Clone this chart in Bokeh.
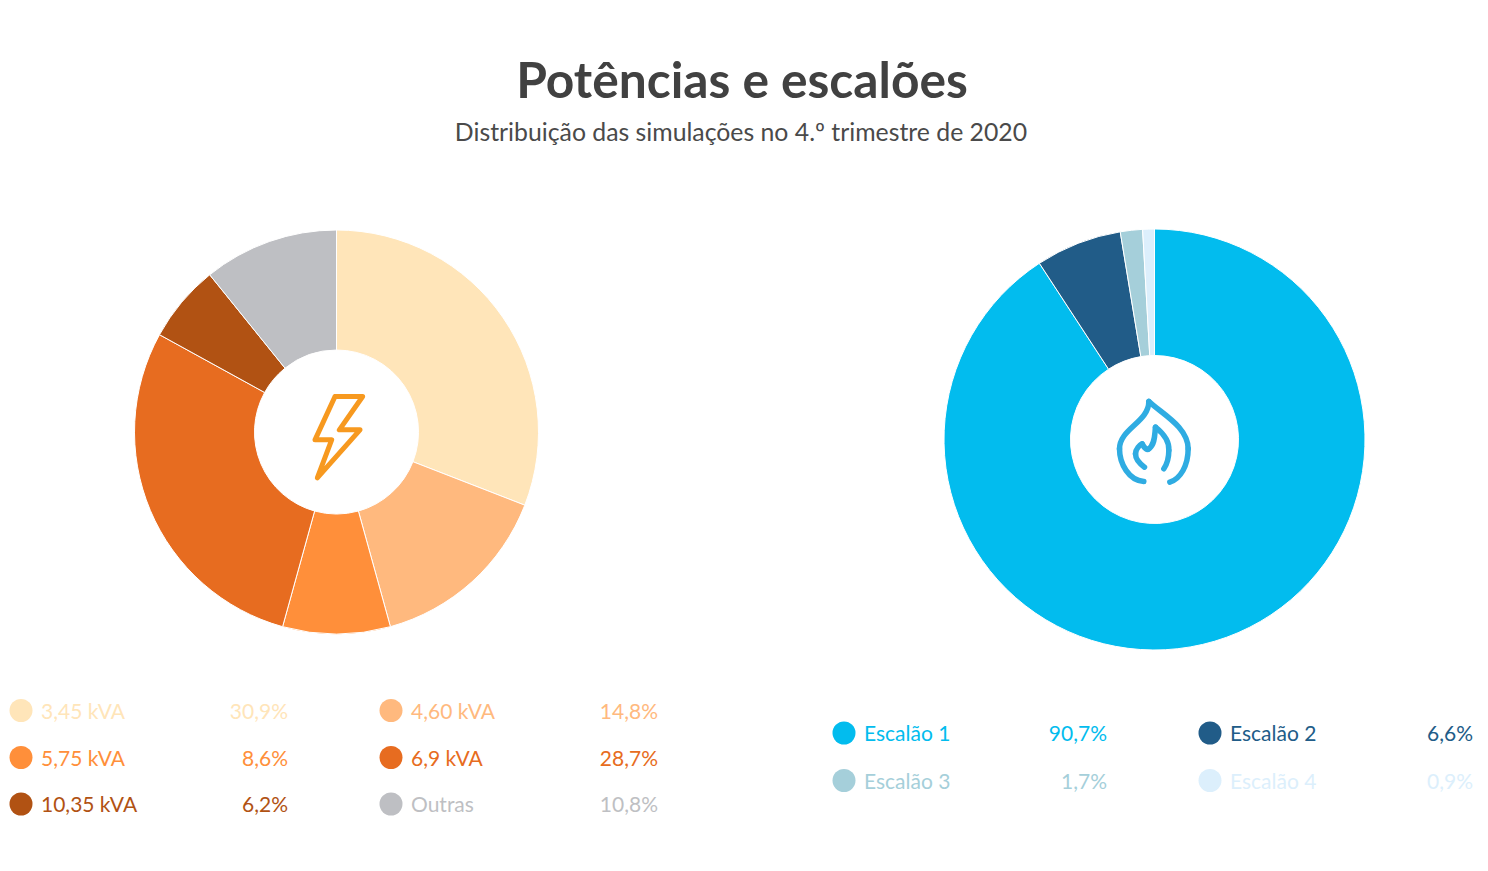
from math import pi
from bokeh.plotting import figure
from bokeh.models import Range1d, ColumnDataSource
from bokeh.core.properties import value
from bokeh.embed import file_html
from bokeh.resources import INLINE

TITLE = "Potências e escalões"
SUBTITLE = "Distribuição das simulações no 4.º trimestre de 2020"

power_labels = ["3,45 kVA", "4,60 kVA", "5,75 kVA", "6,9 kVA", "10,35 kVA", "Outras"]
power_values = [30.9, 14.8, 8.6, 28.7, 6.2, 10.8]
power_text = ["30,9%", "14,8%", "8,6%", "28,7%", "6,2%", "10,8%"]
power_colors = ["#FFE5B9", "#FFB97E", "#FF8F3A", "#E76C20", "#B15213", "#BEBFC3"]

tier_labels = ["Escalão 1", "Escalão 2", "Escalão 3", "Escalão 4"]
tier_values = [90.7, 6.6, 1.7, 0.9]
tier_text = ["90,7%", "6,6%", "1,7%", "0,9%"]
tier_colors = ["#02BCEE", "#215C88", "#A5CFDA", "#DCEFFC"]

FONT = "Lato"
H = 871
def Y(py):
    return H - py

p = figure(width=1480, height=865, x_range=Range1d(0, 1480), y_range=Range1d(6, 871),
           output_backend="svg", toolbar_location=None, min_border=0, outline_line_color=None)
p.xaxis.visible = False
p.yaxis.visible = False
p.xgrid.visible = False
p.ygrid.visible = False
p.background_fill_color = "white"
p.border_fill_color = "white"

def donut(values, colors, cx, cy, r0, r1):
    total = sum(values)
    ends, c = [], 0.0
    starts = []
    for v in values:
        starts.append(pi / 2 - 2 * pi * c / total)
        c += v
        ends.append(pi / 2 - 2 * pi * c / total)
    src = ColumnDataSource(dict(s=starts, e=ends, c=colors))
    p.annular_wedge(x=cx, y=Y(cy), inner_radius=r0, outer_radius=r1, start_angle="e", end_angle="s",
                    fill_color="c", line_color="white", line_width=1, source=src)

donut(power_values, power_colors, 336, 431.5, 82, 202)
donut(tier_values, tier_colors, 1154, 439, 84, 210.5)

def legend(labels, texts, colors, col_x, pct_x, row_y, ncols=2):
    for i, (lab, t, col) in enumerate(zip(labels, texts, colors)):
        cx = col_x[i % ncols]
        px = pct_x[i % ncols]
        y = Y(row_y[i // ncols])
        p.circle(x=[cx], y=[y], radius=11.5, fill_color=col, line_color=None)
        p.text(x=[cx + 20], y=[y + 0.5], text=[lab], text_color=col, text_font=value(FONT),
               text_font_size="21px", text_align="left", text_baseline="middle")
        p.text(x=[px], y=[y + 0.5], text=[t], text_color=col, text_font=value(FONT),
               text_font_size="21px", text_align="right", text_baseline="middle")

legend(power_labels, power_text, power_colors, [20.5, 390.5], [287.5, 657.5], [710, 757, 803.5])
legend(tier_labels, tier_text, tier_colors, [843.5, 1209.5], [1106.5, 1472.5], [732.5, 780])

p.text(x=[741.5], y=[Y(78)], text=[TITLE], text_color="#414141", text_font=value(FONT),
       text_font_style="bold", text_font_size="49.7px", text_align="center", text_baseline="middle")
p.text(x=[740.5], y=[Y(131)], text=[SUBTITLE], text_color="#4a4a4a", text_font=value(FONT),
       text_font_size="24.8px", text_align="center", text_baseline="middle")

# icons: pictograms, outline in zoomed reference coordinates
bolt = [(135, 48), (218, 48), (148, 148), (210, 148), (82, 292), (125, 178), (75, 178), (135, 48)]
bx = [289.5 + a / 3 for a, _ in bolt]
by = [Y(380 + b / 3) for _, b in bolt]
p.line(bx, by, line_color="#F7991F", line_width=5, line_join="round", line_cap="round")

def fx(a): return 1100 + a / 3
def fy(b): return Y(385 + b / 3)
flame_segments = [
    # x0,y0, cx0,cy0, cx1,cy1, x1,y1
    (130, 288, 85, 285, 57, 235, 57, 190),
    (57, 190, 57, 130, 145, 110, 145, 48),
    (145, 48, 185, 85, 263, 125, 263, 190),
    (263, 190, 263, 240, 240, 280, 208, 290),
    (132, 245, 118, 235, 105, 222, 105, 205),
    (105, 205, 105, 190, 118, 178, 125, 175),
    (125, 175, 133, 190, 140, 195, 145, 190),
    (145, 190, 165, 175, 162, 145, 165, 125),
    (165, 125, 190, 145, 207, 170, 205, 195),
    (205, 195, 205, 220, 198, 238, 190, 250),
]
for x0, y0, a0, b0, a1, b1, x1, y1 in flame_segments:
    p.bezier(x0=[fx(x0)], y0=[fy(y0)], x1=[fx(x1)], y1=[fy(y1)], cx0=[fx(a0)], cy0=[fy(b0)],
             cx1=[fx(a1)], cy1=[fy(b1)], line_color="#2FACE2", line_width=5.5, line_cap="round")

open("out.html", "w").write(file_html(p, INLINE))
